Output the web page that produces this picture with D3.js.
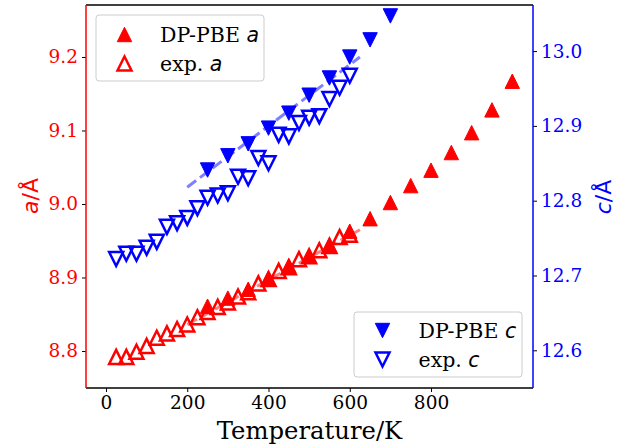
<!DOCTYPE html>
<html><head><meta charset="utf-8">
<script src="https://cdn.jsdelivr.net/npm/d3@7"></script>
<style>body{margin:0;background:#fff}svg{display:block}</style>
</head><body>
<script>
// ---- data ----
const dpT = [250,300,350,400,450,500,550,600,650,700,750,800,850,900,950,1000];
const dpA = [8.861,8.872,8.884,8.899,8.916,8.929,8.944,8.963,8.980,9.002,9.025,9.046,9.070,9.097,9.128,9.167];
const expT = [25,50,75,100,125,150,175,200,225,250,275,300,325,350,375,400,425,450,475,500,525,550,575,600];
const expA = [8.792,8.792,8.799,8.807,8.818,8.824,8.830,8.836,8.846,8.853,8.860,8.866,8.874,8.880,8.892,8.898,8.909,8.914,8.925,8.929,8.937,8.943,8.955,8.958];
const dpCT = [250,300,350,400,450,500,550,600,650,700];
const dpC = [12.841,12.860,12.876,12.897,12.917,12.941,12.964,12.992,13.015,13.047];
const expC = [12.722,12.729,12.729,12.737,12.745,12.765,12.770,12.777,12.790,12.804,12.807,12.810,12.832,12.830,12.857,12.850,12.888,12.886,12.904,12.911,12.913,12.936,12.951,12.967];
const fitT = [200,625];
const fitA = [8.836,8.965];
const fitC = [12.818,12.992];
const xTicks = [0,200,400,600,800];
const aTicks = [8.8,8.9,9.0,9.1,9.2];
const cTicks = [12.6,12.7,12.8,12.9,13.0];

const W=633,H=447;
const L=86,R=533,T=5,B=388;
const svg=d3.select("body").append("svg").attr("width",W).attr("height",H);
const x=d3.scaleLinear().domain([-49.2,1051]).range([L,R]);
const ya=d3.scaleLinear().domain([8.7497,9.2707]).range([B,T]);
const yc=d3.scaleLinear().domain([12.5496,13.0616]).range([B,T]);
const RED="#ff0000",BLUE="#0000ff";
const serif="'DejaVu Serif', serif", sans="'DejaVu Sans', sans-serif";

const up=s=>`M0,${-s}L${s},${s}L${-s},${s}Z`;
const down=s=>`M0,${s}L${s},${-s}L${-s},${-s}Z`;

function markers(g,xs,ys,yScale,path,color,filled){
  g.selectAll(null).data(xs.map((t,i)=>[t,ys[i]])).enter().append("path")
   .attr("d",path).attr("transform",d=>`translate(${x(d[0])},${yScale(d[1])})`)
   .attr("fill",filled?color:"none").attr("stroke",color)
   .attr("stroke-width",filled?1:2.5).attr("stroke-linejoin","miter");
}
function fit(g,ys,yScale,color){
  g.append("path").datum(fitT.map((t,i)=>[t,ys[i]]))
   .attr("d",d3.line().x(d=>x(d[0])).y(d=>yScale(d[1])))
   .attr("fill","none").attr("stroke",color).attr("stroke-opacity",0.5)
   .attr("stroke-width",3).attr("stroke-dasharray","11.1,4.8");
}
svg.append("clipPath").attr("id","c").append("rect").attr("x",L).attr("y",T).attr("width",R-L).attr("height",B-T);
const ga=svg.append("g").attr("clip-path","url(#c)");
fit(ga,fitA,ya,RED);
markers(ga,dpT,dpA,ya,up(7.2),RED,true);
markers(ga,expT,expA,ya,up(7),RED,false);

function legend(x0,y0,w,h,items){
  const g=svg.append("g");
  g.append("rect").attr("x",x0).attr("y",y0).attr("width",w).attr("height",h).attr("rx",3)
   .attr("fill","#fff").attr("fill-opacity",0.8).attr("stroke","#cccccc").attr("stroke-width",1);
  items.forEach(it=>{
    g.append("path").attr("d",it.path).attr("transform",`translate(${it.mx},${it.my})`)
     .attr("fill",it.filled?it.color:"none").attr("stroke",it.color).attr("stroke-width",it.filled?1:2.5);
    const t=g.append("text").attr("x",it.tx).attr("y",it.my+7).attr("font-family",serif).attr("font-size",20.5).attr("fill","#000");
    t.append("tspan").text(it.label);
    t.append("tspan").attr("font-family",sans).attr("font-style","italic").text(it.sym);
  });
}
legend(96,15,168,66,[
  {path:up(7.2),mx:124.5,my:34.5,filled:true,color:RED,tx:160,label:"DP-PBE ",sym:"a"},
  {path:up(7),mx:124.5,my:63.5,filled:false,color:RED,tx:160,label:"exp. ",sym:"a"}]);

const gc=svg.append("g").attr("clip-path","url(#c)");
fit(gc,fitC,yc,BLUE);
markers(gc,dpCT,dpC,yc,down(7.2),BLUE,true);
markers(gc,expT,expC,yc,down(7),BLUE,false);

legend(354,312,168,65,[
  {path:down(7.2),mx:382.5,my:330.5,filled:true,color:BLUE,tx:418.5,label:"DP-PBE ",sym:"c"},
  {path:down(7),mx:382.5,my:359.5,filled:false,color:BLUE,tx:418.5,label:"exp. ",sym:"c"}]);

function styleAxis(g,color){
  g.select(".domain").remove();
  g.selectAll(".tick line").attr("stroke","#000").attr("stroke-width",1);
  g.selectAll(".tick text").attr("font-family",serif).attr("font-size",18.5).attr("fill",color);
}
const gx=svg.append("g").attr("transform",`translate(0,${B})`)
  .call(d3.axisBottom(x).tickValues(xTicks).tickSize(4).tickPadding(4).tickFormat(d3.format("d")));
styleAxis(gx,"#000");
const gl=svg.append("g").attr("transform",`translate(${L},0)`)
  .call(d3.axisLeft(ya).tickValues(aTicks).tickSize(4).tickPadding(4).tickFormat(d3.format(".1f")));
styleAxis(gl,RED);
const gr=svg.append("g").attr("transform",`translate(${R},0)`)
  .call(d3.axisRight(yc).tickValues(cTicks).tickSize(4).tickPadding(4).tickFormat(d3.format(".1f")));
styleAxis(gr,BLUE);

svg.append("line").attr("x1",L).attr("x2",R).attr("y1",T).attr("y2",T).attr("stroke","#000").attr("stroke-width",1.5);
svg.append("line").attr("x1",L).attr("x2",R).attr("y1",B).attr("y2",B).attr("stroke","#000").attr("stroke-width",1.5);
svg.append("line").attr("x1",L).attr("x2",L).attr("y1",T).attr("y2",B).attr("stroke",RED).attr("stroke-width",1.5);
svg.append("line").attr("x1",R).attr("x2",R).attr("y1",T).attr("y2",B).attr("stroke",BLUE).attr("stroke-width",1.5);

svg.append("text").attr("x",(L+R)/2).attr("y",439).attr("text-anchor","middle")
  .attr("font-family",serif).attr("font-size",24.3).attr("fill","#000").text("Temperature/K");
svg.append("text").attr("transform","translate(38,196) rotate(-90)").attr("text-anchor","middle")
  .attr("font-family",sans).attr("font-size",22).attr("fill",RED)
  .call(t=>{t.append("tspan").attr("font-style","italic").text("a");t.append("tspan").text("/Å");});
svg.append("text").attr("transform","translate(611,197) rotate(-90)").attr("text-anchor","middle")
  .attr("font-family",sans).attr("font-size",22).attr("fill",BLUE)
  .call(t=>{t.append("tspan").attr("font-style","italic").text("c");t.append("tspan").text("/Å");});
</script>
</body></html>
